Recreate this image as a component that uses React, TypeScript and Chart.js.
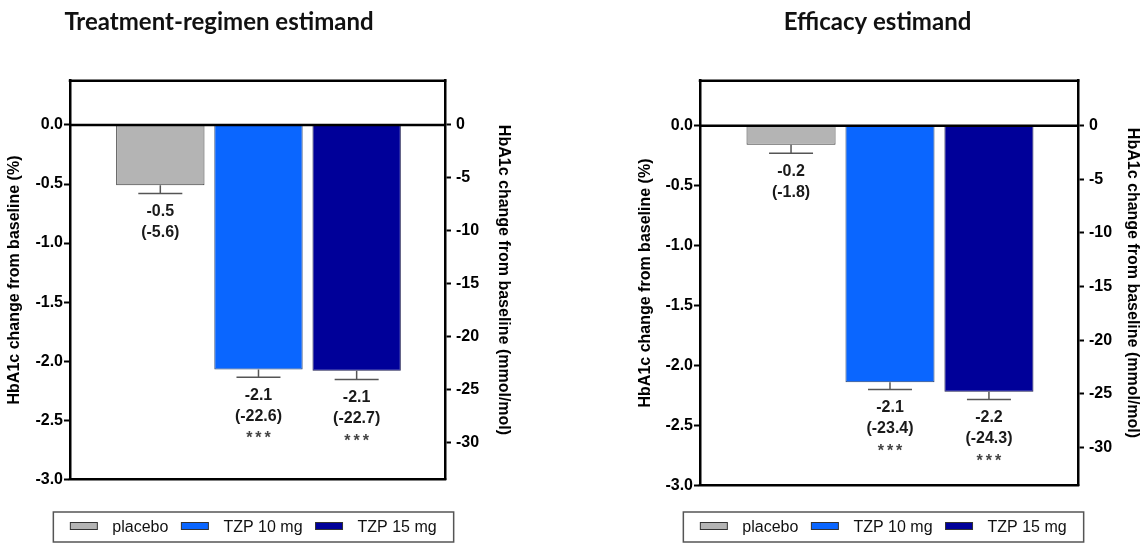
import React, { useEffect, useRef } from 'react';
import { Chart, registerables } from 'chart.js';

Chart.register(...registerables);

// ---------- data ----------
const categories = ['placebo', 'TZP 10 mg', 'TZP 15 mg'];
const barColors = ['#b4b4b4', '#0a66ff', '#000099'];
const barEdges = ['#3a3a3a', '#27406e', '#1c1c50'];

const panelTitles = ['Treatment-regimen estimand', 'Efficacy estimand'];

const trChangePct = [-0.51, -2.07, -2.08];
const trSEPct = [0.07, 0.065, 0.075];
const trChangeMmol = [-5.6, -22.6, -22.7];
const trSignif = ['', '***', '***'];

const effChangePct = [-0.16, -2.14, -2.22];
const effSEPct = [0.07, 0.06, 0.065];
const effChangeMmol = [-1.8, -23.4, -24.3];
const effSignif = ['', '***', '***'];

const pctAxisTitle = 'HbA1c change from baseline (%)';
const mmolAxisTitle = 'HbA1c change from baseline (mmol/mol)';
const pctMin = -3.0;
const pctMax = 0.375;
const pctStep = 0.5;
const mmolPerPct = 11.17;
const mmolStep = 5;

// ---------- layout (styles) ----------
const FONT = '"Liberation Sans", Arial, Helvetica, sans-serif';
const panels = [
  {
    title: panelTitles[0], values: trChangePct, errors: trSEPct, mmol: trChangeMmol, signif: trSignif,
    left: 0, width: 560,
    padding: { left: 0, right: 47, top: 80.7, bottom: 64.7 },
    leftW: 70, rightW: 68, leftTitlePad: 5.4, rightTitlePad: 0,
    titleX: 219, legendCX: 253.5,
  },
  {
    title: panelTitles[1], values: effChangePct, errors: effSEPct, mmol: effChangeMmol, signif: effSignif,
    left: 560, width: 583,
    padding: { left: 70, right: 1, top: 80.7, bottom: 58.7 },
    leftW: 70, rightW: 64, leftTitlePad: 6, rightTitlePad: 0,
    titleX: 317.5, legendCX: 323.5,
  },
];

const isMultiple = (v: number, step: number) => Math.abs(v / step - Math.round(v / step)) < 1e-6;

const decor = {
  id: 'decor',
  afterDatasetsDraw(chart: any, _args: any, opts: any) {
    const ctx = chart.ctx;
    const ca = chart.chartArea;
    const y = chart.scales.y;
    const meta = chart.getDatasetMeta(0);
    ctx.save();
    const y0 = y.getPixelForValue(0);
    ctx.strokeStyle = '#000';
    ctx.lineWidth = 2.5;
    ctx.beginPath();
    ctx.moveTo(ca.left, y0);
    ctx.lineTo(ca.right, y0);
    ctx.stroke();

    meta.data.forEach((bar: any, i: number) => {
      const v = opts.values[i];
      const e = opts.errors[i];
      const x = bar.x;
      const yb = y.getPixelForValue(v);
      const yc = y.getPixelForValue(v - e);
      ctx.strokeStyle = '#555';
      ctx.lineWidth = 1.5;
      ctx.beginPath();
      ctx.moveTo(x, yb);
      ctx.lineTo(x, yc);
      ctx.moveTo(x - 22, yc);
      ctx.lineTo(x + 22, yc);
      ctx.stroke();

      ctx.fillStyle = '#1a1a1a';
      ctx.font = 'bold 16px ' + FONT;
      ctx.textAlign = 'center';
      ctx.textBaseline = 'middle';
      ctx.fillText(v.toFixed(1), x, yc + 18);
      ctx.fillText('(' + opts.mmol[i].toFixed(1) + ')', x, yc + 39);
      if (opts.signif[i]) {
        ctx.fillStyle = '#444';
        ctx.textBaseline = 'alphabetic';
        (ctx as any).letterSpacing = '3px';
        ctx.fillText(opts.signif[i], x + 1.5, yc + 57 + 9.3);
        (ctx as any).letterSpacing = '0px';
      }
    });
    ctx.restore();
  },
  afterDraw(chart: any, _args: any, opts: any) {
    const ctx = chart.ctx;
    const ca = chart.chartArea;
    ctx.save();
    // frame top & bottom
    ctx.strokeStyle = '#000';
    ctx.lineWidth = 2.5;
    ctx.beginPath();
    ctx.moveTo(ca.left - 1.25, ca.top);
    ctx.lineTo(ca.right + 1.25, ca.top);
    ctx.moveTo(ca.left - 1.25, ca.bottom);
    ctx.lineTo(ca.right + 1.25, ca.bottom);
    ctx.stroke();

    // title
    ctx.fillStyle = '#111';
    ctx.font = 'bold 24px Lato, "Open Sans", sans-serif';
    ctx.textAlign = 'center';
    ctx.textBaseline = 'alphabetic';
    ctx.fillText(opts.title, opts.titleX, 30);

    // legend
    ctx.font = '16px ' + FONT;
    const widths = categories.map((c) => ctx.measureText(c).width);
    const sw = 27, sh = 7, gapST = 15, gapItem = 13, padX = 17;
    const inner = widths.reduce((a, w) => a + sw + gapST + w, 0) + gapItem * (categories.length - 1);
    const boxW = inner + padX * 2;
    const bx = opts.legendCX - boxW / 2;
    const top = 512, h = 30;
    ctx.strokeStyle = '#555';
    ctx.lineWidth = 1.5;
    ctx.strokeRect(bx, top, boxW, h);
    let cx = bx + padX;
    const cy = top + h / 2;
    categories.forEach((c, i) => {
      ctx.fillStyle = barColors[i];
      ctx.fillRect(cx, cy - sh / 2 - 1, sw, sh);
      ctx.strokeStyle = '#333';
      ctx.lineWidth = 1;
      ctx.strokeRect(cx, cy - sh / 2 - 1, sw, sh);
      cx += sw + gapST;
      ctx.fillStyle = '#111';
      ctx.textAlign = 'left';
      ctx.textBaseline = 'middle';
      ctx.fillText(c, cx, cy + 1);
      cx += widths[i] + gapItem;
    });
    ctx.restore();
  },
};

function Panel({ p }: { p: any }) {
  const ref = useRef<HTMLCanvasElement | null>(null);
  useEffect(() => {
    if (!ref.current) return;
    const tickFont = { family: FONT, size: 16, weight: 'bold' as const };
    const titleFont = { family: FONT, size: 16, weight: 'bold' as const, lineHeight: 1.2 };
    const chart = new Chart(ref.current, {
      type: 'bar',
      data: {
        datasets: [
          {
            label: 'HbA1c',
            data: p.values.map((v: number, i: number) => ({ x: i, y: v })),
            backgroundColor: barColors,
            borderColor: barEdges,
            borderWidth: 1,
            barPercentage: 0.9,
            categoryPercentage: 1,
            xAxisID: 'x',
            yAxisID: 'y',
          },
        ],
      },
      options: {
        animation: false,
        responsive: false,
        maintainAspectRatio: false,
        layout: { padding: p.padding },
        plugins: {
          legend: { display: false },
          title: { display: false },
          tooltip: { enabled: false },
          decor: {
            title: p.title, values: p.values, errors: p.errors, mmol: p.mmol, signif: p.signif,
            titleX: p.titleX, legendCX: p.legendCX,
          },
        } as any,
        scales: {
          x: {
            type: 'linear',
            min: -0.92,
            max: 2.9,
            offset: false,
            display: false,
            grid: { offset: false },
            ticks: { stepSize: 1, includeBounds: false } as any,
            afterBuildTicks: (a: any) => {
              a.ticks = categories.map((_, i) => ({ value: i }));
            },
          },
          y: {
            type: 'linear',
            position: 'left',
            min: pctMin,
            max: pctMax,
            afterBuildTicks: (a: any) => {
              a.ticks = a.ticks.filter((t: any) => t.value <= 1e-9 && isMultiple(t.value, pctStep));
            },
            afterFit: (a: any) => { a.width = p.leftW; },
            ticks: {
              stepSize: pctStep,
              color: '#000',
              font: tickFont,
              padding: 1,
              callback: (v: any) => Number(v).toFixed(1),
            },
            grid: { drawOnChartArea: false, drawTicks: true, tickLength: 6, tickColor: '#000', tickWidth: 2, color: '#000' },
            border: { display: true, color: '#000', width: 2.5 },
            title: { display: true, text: pctAxisTitle, color: '#000', font: titleFont, padding: { top: p.leftTitlePad, bottom: 0 } },
          },
          y2: {
            type: 'linear',
            position: 'right',
            min: pctMin * mmolPerPct,
            max: pctMax * mmolPerPct,
            afterBuildTicks: (a: any) => {
              a.ticks = a.ticks.filter((t: any) => t.value <= 1e-9 && isMultiple(t.value, mmolStep));
            },
            afterFit: (a: any) => { a.width = p.rightW; },
            ticks: {
              stepSize: mmolStep,
              color: '#000',
              font: tickFont,
              padding: 5,
              callback: (v: any) => String(Math.round(Number(v))),
            },
            grid: { drawOnChartArea: false, drawTicks: true, tickLength: 6, tickColor: '#000', tickWidth: 2, color: '#000' },
            border: { display: true, color: '#000', width: 2.5 },
            title: { display: true, text: mmolAxisTitle, color: '#000', font: titleFont, padding: { top: p.rightTitlePad, bottom: 0 } },
          },
        },
      },
      plugins: [decor as any],
    });
    return () => chart.destroy();
  }, [p]);
  return (
    <canvas
      ref={ref}
      width={p.width}
      height={544}
      style={{ position: 'absolute', left: p.left, top: 0, width: p.width, height: 544 }}
    />
  );
}

export default function App() {
  return (
    <div style={{ position: 'absolute', left: 0, top: 0, width: 1143, height: 544, background: '#fff', overflow: 'hidden' }}>
      {panels.map((p, i) => (
        <Panel key={i} p={p} />
      ))}
    </div>
  );
}
